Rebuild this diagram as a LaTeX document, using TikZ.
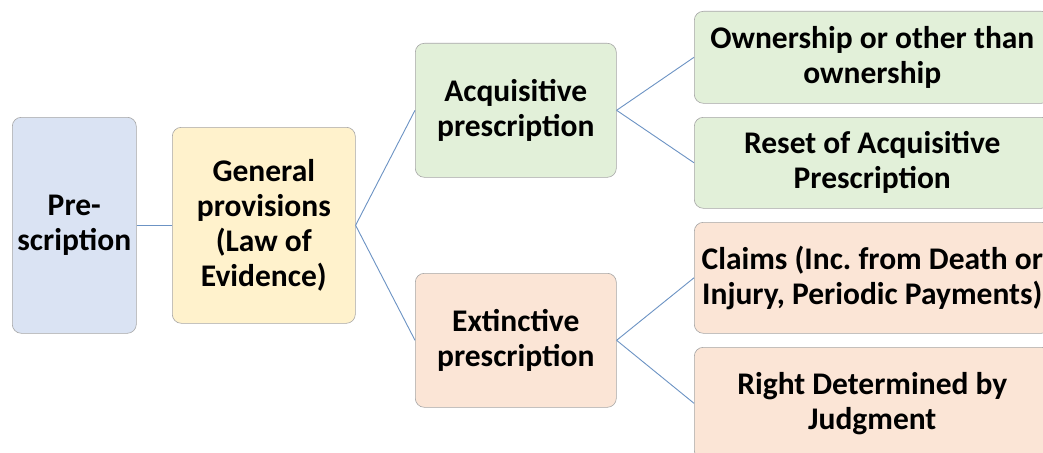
\documentclass[tikz,border=0pt]{standalone}
\usepackage{fontspec}
\setmainfont{Carlito}
\frenchspacing
\begin{document}
\begin{tikzpicture}[x=1pt,y=-1pt,
  box/.style={draw=black!35, line width=0.6pt, rounded corners=9pt, anchor=north west,
    align=center, inner sep=0pt, font=\fontsize{31.5}{35}\selectfont\bfseries, text=black},
  conn/.style={draw=cline, line width=0.9pt}]
\useasboundingbox (0,0) rectangle (1043,452);
\clip (0,0) rectangle (1043,452);
\fill[white] (0,0) rectangle (1043,452);
\definecolor{cblue}{HTML}{DAE3F3}
\definecolor{cyel}{HTML}{FFF2CC}
\definecolor{cgreen}{HTML}{E2F0D9}
\definecolor{cpeach}{HTML}{FBE5D6}
\definecolor{cline}{HTML}{6C93C4}
\node[box, fill=cblue, minimum width=124pt, minimum height=216pt] (pre) at (12,117) {Pre-\\scription};
\node[box, fill=cyel, minimum width=183pt, minimum height=196pt] (gen) at (172,127) {General\\provisions\\(Law of\\Evidence)};
\node[box, fill=cgreen, minimum width=201pt, minimum height=134pt] (acq) at (415,43) {Acquisitive\\prescription};
\node[box, fill=cpeach, minimum width=201pt, minimum height=134pt] (ext) at (415,273) {Extinctive\\prescription};
\node[box, fill=cgreen, minimum width=356pt, minimum height=92pt] (own) at (694,11) {Ownership or other than\\ownership};
\node[box, fill=cgreen, minimum width=356pt, minimum height=91pt] (res) at (694,117) {Reset of Acquisitive\\Prescription};
\node[box, fill=cpeach, minimum width=356pt, minimum height=111pt] (cla) at (694,222) {Claims (Inc. from Death or\\Injury, Periodic Payments)};
\node[box, fill=cpeach, minimum width=356pt, minimum height=112pt] (rig) at (694,347) {Right Determined by\\Judgment};
\draw[conn] (pre.east) -- (gen.east -| gen.west);
\draw[conn] (gen.east) -- (acq.west);
\draw[conn] (gen.east) -- (ext.west);
\draw[conn] (acq.east) -- (own.west);
\draw[conn] (acq.east) -- (res.west);
\draw[conn] (ext.east) -- (cla.west);
\draw[conn] (ext.east) -- (rig.west);
\end{tikzpicture}
\end{document}
